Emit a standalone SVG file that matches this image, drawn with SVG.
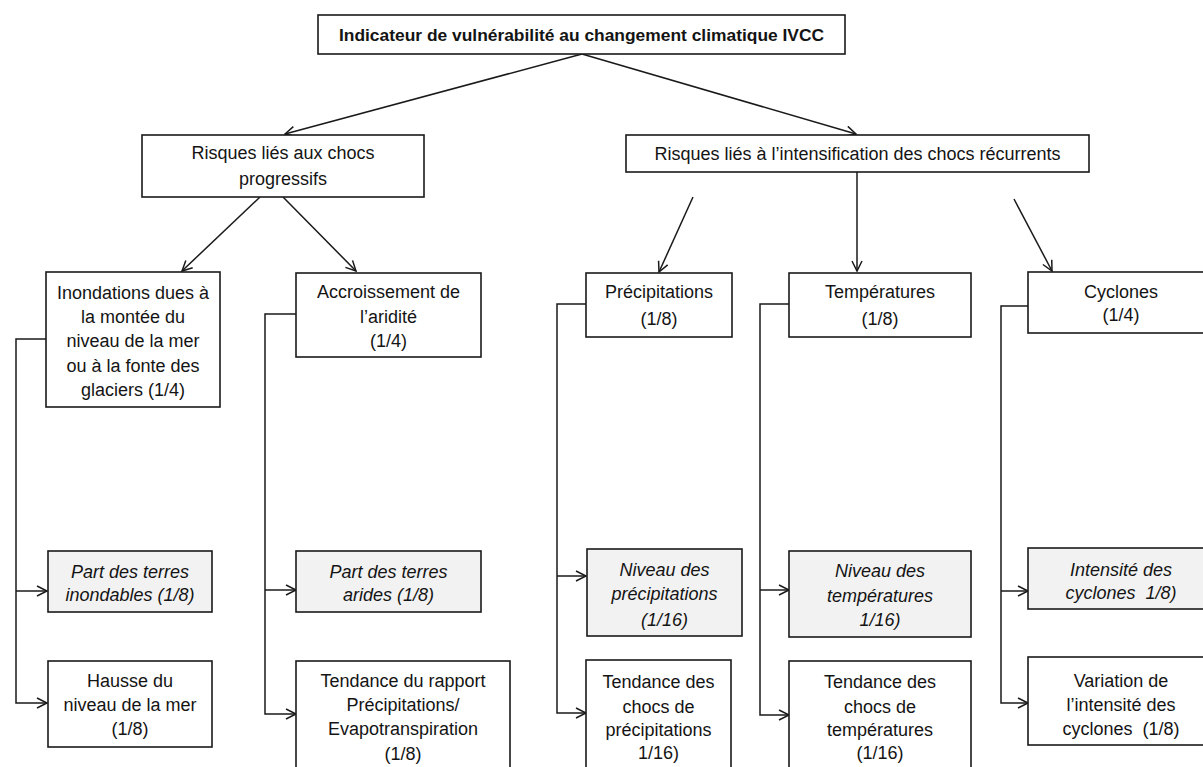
<svg xmlns="http://www.w3.org/2000/svg" width="1203" height="767" viewBox="0 0 1203 767">
<style>
.box{fill:#fff;stroke:#1a1a1a;stroke-width:1.6}
.gray{fill:#f2f2f2;stroke:#1a1a1a;stroke-width:1.6}
text{font-family:"Liberation Sans",Arial,sans-serif;font-size:18px;fill:#141414;text-anchor:middle;white-space:pre}
.b{font-weight:bold;font-size:17.4px}
.i{font-style:italic}
.c{fill:none;stroke:#1a1a1a;stroke-width:1.5}
</style>
<defs>
<marker id="ah" markerUnits="userSpaceOnUse" markerWidth="14" markerHeight="14" refX="11" refY="6" orient="auto">
<path d="M1,1 L11,6 L1,11" fill="none" stroke="#1a1a1a" stroke-width="1.5"/>
</marker>
</defs>
<rect width="1203" height="767" fill="#fff"/>

<g id="connectors">
<line class="c" x1="582" y1="54" x2="285" y2="134" marker-end="url(#ah)"/>
<line class="c" x1="582" y1="54" x2="856" y2="134" marker-end="url(#ah)"/>
<line class="c" x1="260" y1="197" x2="182" y2="271" marker-end="url(#ah)"/>
<line class="c" x1="283" y1="197" x2="356" y2="271" marker-end="url(#ah)"/>
<line class="c" x1="693" y1="197" x2="659" y2="272" marker-end="url(#ah)"/>
<line class="c" x1="857" y1="172" x2="857" y2="271" marker-end="url(#ah)"/>
<line class="c" x1="1014" y1="199" x2="1052" y2="271" marker-end="url(#ah)"/>

<polyline class="c" points="46,339 16,339 16,703 47,703" marker-end="url(#ah)"/>
<line class="c" x1="16" y1="591" x2="47" y2="591" marker-end="url(#ah)"/>

<polyline class="c" points="296,314 265,314 265,714 296,714" marker-end="url(#ah)"/>
<line class="c" x1="265" y1="590" x2="296" y2="590" marker-end="url(#ah)"/>

<polyline class="c" points="586,304 557,304 557,713 586,713" marker-end="url(#ah)"/>
<line class="c" x1="557" y1="576" x2="586" y2="576" marker-end="url(#ah)"/>

<polyline class="c" points="789,304 760,304 760,715 789,715" marker-end="url(#ah)"/>
<line class="c" x1="760" y1="590" x2="789" y2="590" marker-end="url(#ah)"/>

<polyline class="c" points="1028,306 1001,306 1001,703 1028,703" marker-end="url(#ah)"/>
<line class="c" x1="1001" y1="591" x2="1028" y2="591" marker-end="url(#ah)"/>
</g>

<g id="n-top">
<rect class="box" x="318" y="15" width="527" height="39"/>
<text class="b" x="581.5" y="41">Indicateur de vulnérabilité au changement climatique IVCC</text>
</g>

<g id="n-progressifs">
<rect class="box" x="142" y="135" width="282" height="62"/>
<text x="283" y="159">Risques liés aux chocs</text>
<text x="283" y="185">progressifs</text>
</g>

<g id="n-recurrents">
<rect class="box" x="626" y="135" width="463" height="37"/>
<text x="857.5" y="160">Risques liés à l’intensification des chocs récurrents</text>
</g>

<g id="n-inondations">
<rect class="box" x="46" y="272" width="174" height="135"/>
<text x="133" y="299">Inondations dues à</text>
<text x="133" y="323">la montée du</text>
<text x="133" y="347">niveau de la mer</text>
<text x="133" y="372">ou à la fonte des</text>
<text x="133" y="396">glaciers (1/4)</text>
</g>

<g id="n-aridite">
<rect class="box" x="296" y="273" width="185" height="84"/>
<text x="388.5" y="298">Accroissement de</text>
<text x="388.5" y="323">l’aridité</text>
<text x="388.5" y="347">(1/4)</text>
</g>

<g id="n-precipitations">
<rect class="box" x="586" y="273" width="146" height="64"/>
<text x="659" y="298">Précipitations</text>
<text x="659" y="325">(1/8)</text>
</g>

<g id="n-temperatures">
<rect class="box" x="789" y="273" width="182" height="64"/>
<text x="880" y="298">Températures</text>
<text x="880" y="325">(1/8)</text>
</g>

<g id="n-cyclones">
<rect class="box" x="1028" y="272" width="186" height="61"/>
<text x="1121" y="298">Cyclones</text>
<text x="1121" y="321">(1/4)</text>
</g>

<g id="n-terres-inondables">
<rect class="gray" x="48" y="551" width="164" height="61"/>
<text class="i" x="130" y="578">Part des terres</text>
<text class="i" x="130" y="601">inondables (1/8)</text>
</g>

<g id="n-hausse-mer">
<rect class="box" x="48" y="661" width="164" height="86"/>
<text x="130" y="687">Hausse du</text>
<text x="130" y="711">niveau de la mer</text>
<text x="130" y="735">(1/8)</text>
</g>

<g id="n-terres-arides">
<rect class="gray" x="296" y="551" width="185" height="61"/>
<text class="i" x="388.5" y="578">Part des terres</text>
<text class="i" x="388.5" y="601">arides (1/8)</text>
</g>

<g id="n-rapport">
<rect class="box" x="296" y="661" width="214" height="115"/>
<text x="403" y="687">Tendance du rapport</text>
<text x="403" y="711">Précipitations/</text>
<text x="403" y="735">Evapotranspiration</text>
<text x="403" y="760">(1/8)</text>
</g>

<g id="n-niveau-precip">
<rect class="gray" x="587" y="549" width="155" height="87"/>
<text class="i" x="664.5" y="576">Niveau des</text>
<text class="i" x="664.5" y="600">précipitations</text>
<text class="i" x="664.5" y="626">(1/16)</text>
</g>

<g id="n-chocs-precip">
<rect class="box" x="586" y="660" width="145" height="116"/>
<text x="658.5" y="688">Tendance des</text>
<text x="658.5" y="713">chocs de</text>
<text x="658.5" y="736">précipitations</text>
<text x="658.5" y="759">1/16)</text>
</g>

<g id="n-niveau-temp">
<rect class="gray" x="789" y="551" width="182" height="86"/>
<text class="i" x="880" y="577">Niveau des</text>
<text class="i" x="880" y="602">températures</text>
<text class="i" x="880" y="626">1/16)</text>
</g>

<g id="n-chocs-temp">
<rect class="box" x="789" y="661" width="182" height="115"/>
<text x="880" y="688">Tendance des</text>
<text x="880" y="713">chocs de</text>
<text x="880" y="736">températures</text>
<text x="880" y="759">(1/16)</text>
</g>

<g id="n-intensite">
<rect class="gray" x="1028" y="548" width="186" height="61"/>
<text class="i" x="1121" y="576">Intensité des</text>
<text class="i" x="1121" y="599">cyclones  1/8)</text>
</g>

<g id="n-variation">
<rect class="box" x="1028" y="657" width="186" height="88"/>
<text x="1121" y="687">Variation de</text>
<text x="1121" y="711">l’intensité des</text>
<text x="1121" y="735">cyclones  (1/8)</text>
</g>
</svg>
